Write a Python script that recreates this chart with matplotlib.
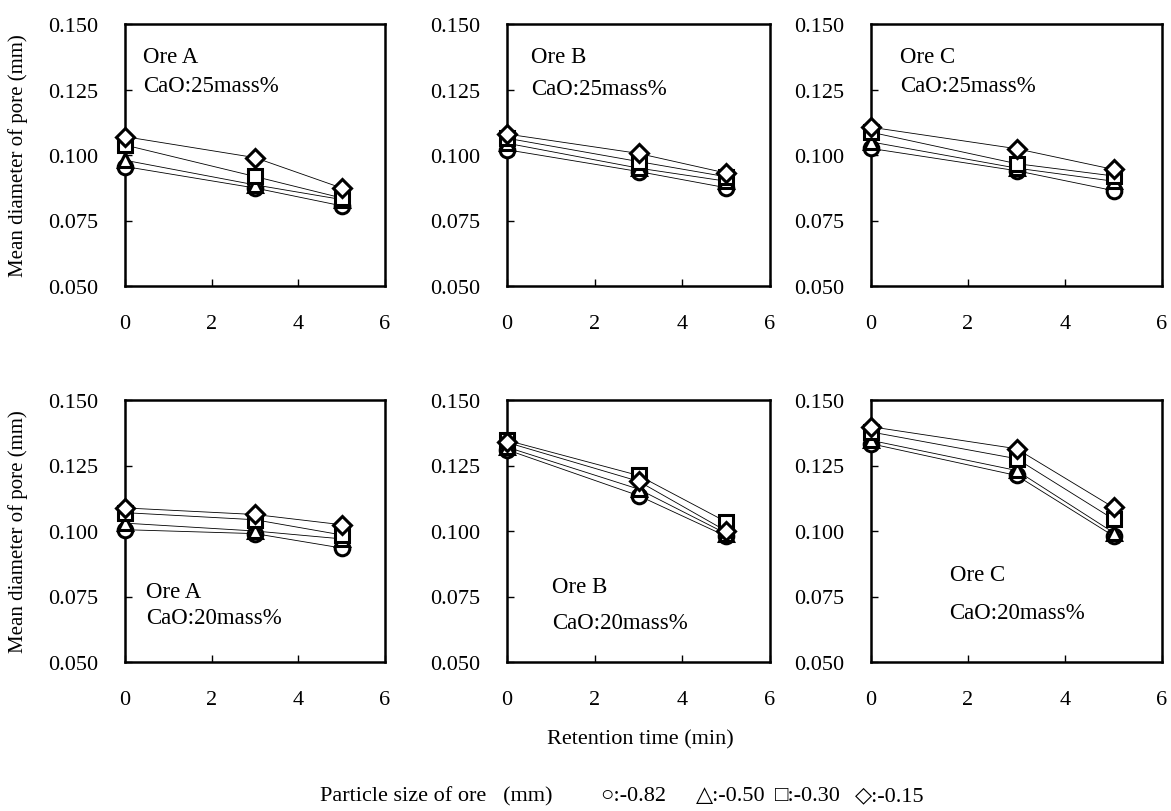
import numpy as np
import matplotlib
matplotlib.use("Agg")
import matplotlib.pyplot as plt

plt.rcParams['font.family'] = ['Liberation Serif', 'DejaVu Sans']

# Retention time (min)
time = [0, 3, 5]

# Particle size series: -0.82 (circle), -0.50 (triangle), -0.30 (square), -0.15 (diamond)
series_labels = ['-0.82', '-0.50', '-0.30', '-0.15']
series_symbols = ['\u25cb', '\u25b3', '\u25a1', '\u25c7']
markers = ['o', '^', 's', 'D']

# Mean diameter of pore (mm), per panel, per particle size
ore_a_25 = [[0.0956, 0.0874, 0.0806],
            [0.0980, 0.0886, 0.0830],
            [0.1038, 0.0918, 0.0836],
            [0.1070, 0.0990, 0.0874]]
ore_b_25 = [[0.1020, 0.0937, 0.0875],
            [0.1045, 0.0950, 0.0900],
            [0.1064, 0.0975, 0.0917],
            [0.1080, 0.1006, 0.0931]]
ore_c_25 = [[0.1025, 0.0940, 0.0864],
            [0.1050, 0.0950, 0.0900],
            [0.1087, 0.0967, 0.0920],
            [0.1106, 0.1024, 0.0945]]
ore_a_20 = [[0.1005, 0.0990, 0.0935],
            [0.1030, 0.1000, 0.0970],
            [0.1070, 0.1043, 0.0985],
            [0.1088, 0.1063, 0.1024]]
ore_b_20 = [[0.1310, 0.1135, 0.0980],
            [0.1320, 0.1160, 0.0990],
            [0.1346, 0.1212, 0.1035],
            [0.1338, 0.1190, 0.1000]]
ore_c_20 = [[0.1333, 0.1212, 0.0981],
            [0.1346, 0.1231, 0.0994],
            [0.1378, 0.1276, 0.1045],
            [0.1398, 0.1314, 0.1090]]

panels = [ore_a_25, ore_b_25, ore_c_25, ore_a_20, ore_b_20, ore_c_20]
ore_names = ['Ore A', 'Ore B', 'Ore C', 'Ore A', 'Ore B', 'Ore C']
cao_labels = ['CaO:25mass%', 'CaO:25mass%', 'CaO:25mass%',
              'CaO:20mass%', 'CaO:20mass%', 'CaO:20mass%']

W, H = 1171, 812
fig = plt.figure(figsize=(W / 100, H / 100), dpi=100)

# panel boxes in pixels: left, right / top, bottom
cols = [(125, 385), (507, 770), (871, 1162)]
rows = [(25, 287), (401, 663)]
# text positions (axes fraction): x, y of ore name, y of CaO label
text_pos = [(0.07, 0.875, 0.765), (0.09, 0.875, 0.755), (0.10, 0.875, 0.765),
            (0.08, 0.27, 0.17), (0.17, 0.29, 0.15), (0.27, 0.335, 0.19)]

fs_tick = 16
fs_text = 16.5
for i, data in enumerate(panels):
    r, c = divmod(i, 3)
    x0, x1 = cols[c]
    y0, y1 = rows[r]
    ax = fig.add_axes([x0 / W, 1 - y1 / H, (x1 - x0) / W, (y1 - y0) / H])
    for vals, m in zip(data, markers):
        ms = 10.5 if m != 'D' else 9
        ax.plot(time, vals, color='black', lw=0.6, zorder=2)
        ax.plot(time, vals, linestyle='none', marker=m, markersize=ms,
                markerfacecolor='white', markeredgecolor='black',
                markeredgewidth=2.2, clip_on=False, zorder=3)
    ax.set_xlim(0, 6)
    ax.set_ylim(0.05, 0.15)
    ax.set_xticks([0, 2, 4, 6])
    yt = [0.050, 0.075, 0.100, 0.125, 0.150]
    ax.set_yticks(yt)
    ax.set_yticklabels(['%.3f' % v for v in yt])
    ax.tick_params(direction='in', length=5, width=1, labelsize=fs_tick)
    ax.tick_params(axis='y', pad=19)
    ax.tick_params(axis='x', pad=20)
    for s in ax.spines.values():
        s.set_linewidth(1.8)
    tx, ty1, ty2 = text_pos[i]
    ax.text(tx, ty1, ore_names[i], transform=ax.transAxes, fontsize=fs_text,
            va='center', ha='left')
    ax.text(tx, ty2, cao_labels[i], transform=ax.transAxes, fontsize=fs_text,
            va='center', ha='left')

# shared labels
for yc in [156, 532]:
    fig.text(18 / W, 1 - yc / H, 'Mean diameter of pore (mm)', rotation=90,
             ha='center', va='center', fontsize=15)
fig.text(640 / W, 1 - 740 / H, 'Retention time (min)', ha='center',
         va='center', fontsize=16)

# bottom key line
fig.text(553 / W, 1 - 797 / H, 'Particle size of ore   (mm)', ha='right',
         va='center', fontsize=16)
key_x = [600, 696, 775, 855]
for kx, sym, lab in zip(key_x, series_symbols, series_labels):
    fig.text(kx / W, 1 - 797 / H, sym + ':' + lab, ha='left', va='center',
             fontsize=16)

fig.savefig('out.png', dpi=100)
